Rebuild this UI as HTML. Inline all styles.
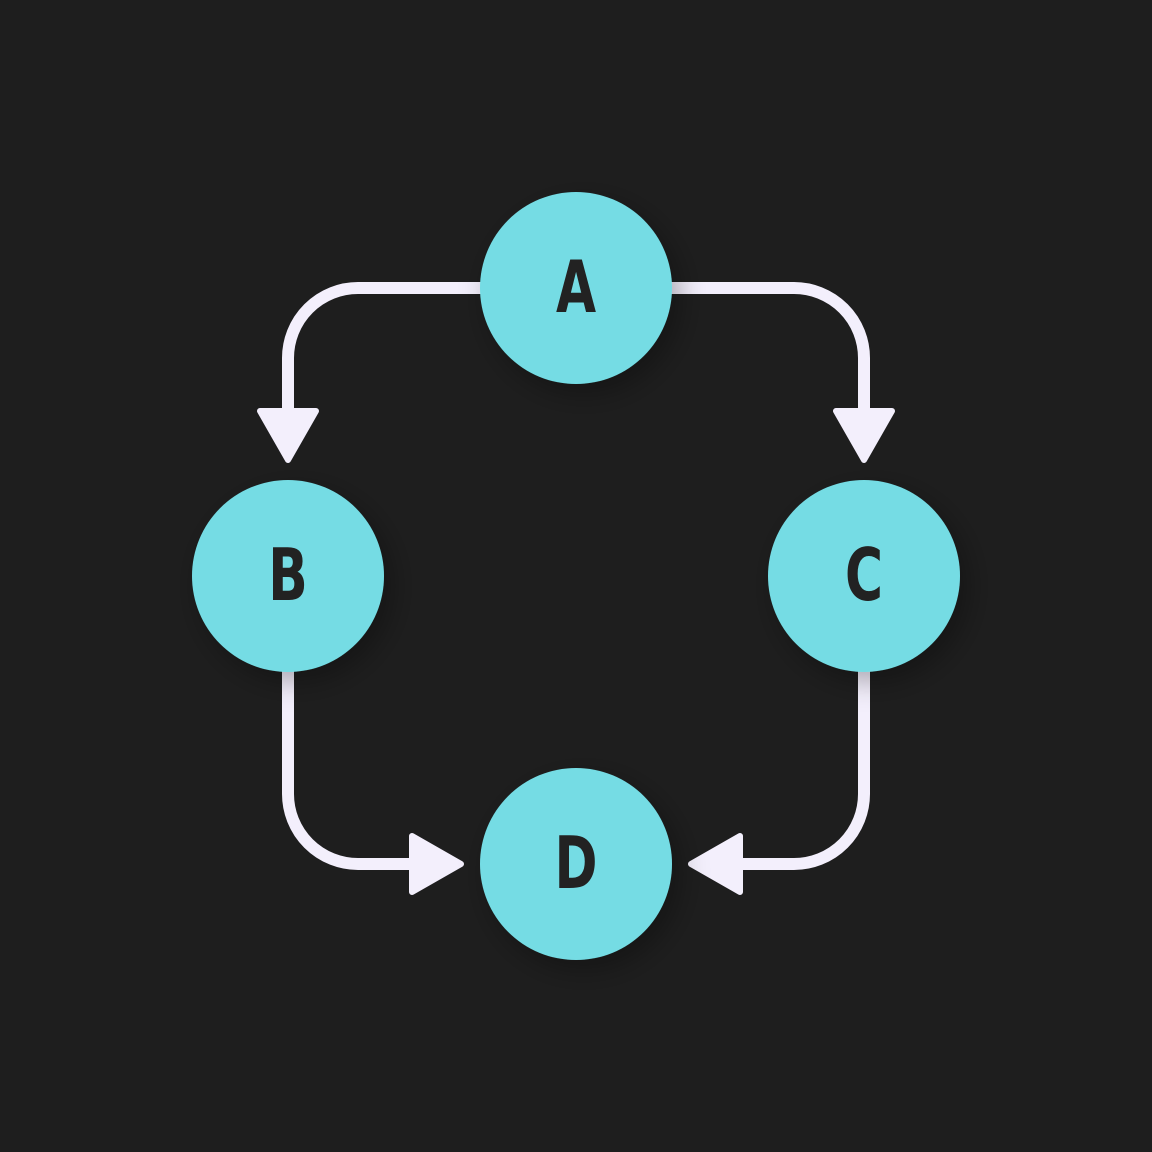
<!DOCTYPE html>
<html><head><style>html,body{margin:0;padding:0;background:#1e1e1e;overflow:hidden;width:1152px;height:1152px;}svg{display:block}</style></head>
<body>
<svg width="1152" height="1152" viewBox="0 0 1152 1152" xmlns="http://www.w3.org/2000/svg">
<defs><filter id="s" x="-40%" y="-40%" width="180%" height="180%"><feDropShadow dx="8" dy="10" stdDeviation="14" flood-color="#000" flood-opacity="0.3"/></filter></defs>
<rect width="1152" height="1152" fill="#1e1e1e"/>
<g fill="none" stroke="#f3effc" stroke-width="12">
<path d="M485 288 H358 A70 70 0 0 0 288 358 V412"/>
<path d="M667 288 H794 A70 70 0 0 1 864 358 V412"/>
<path d="M288 667 V794 A70 70 0 0 0 358 864 H412"/>
<path d="M864 667 V794 A70 70 0 0 1 794 864 H740"/>
</g>
<g fill="#f3effc" stroke="#f3effc" stroke-width="6" stroke-linejoin="round">
<polygon points="260,411 316,411 288,460"/>
<polygon points="836,411 892,411 864,460"/>
<polygon points="412,836 412,892 461,864"/>
<polygon points="740,836 740,892 691,864"/>
</g>
<g fill="#74dce4" filter="url(#s)">
<circle cx="576" cy="288" r="96"/>
<circle cx="288" cy="576" r="96"/>
<circle cx="864" cy="576" r="96"/>
<circle cx="576" cy="864" r="96"/>
</g>
<g fill="#222" font-family="DejaVu Sans, sans-serif" font-weight="bold" font-size="72" text-anchor="middle">
<text transform="translate(576 312) scale(0.72 1)">A</text>
<text transform="translate(288 600) scale(0.72 1)">B</text>
<text transform="translate(864 600) scale(0.72 1)">C</text>
<text transform="translate(576 888) scale(0.72 1)">D</text>
</g>
</svg>
</body></html>
